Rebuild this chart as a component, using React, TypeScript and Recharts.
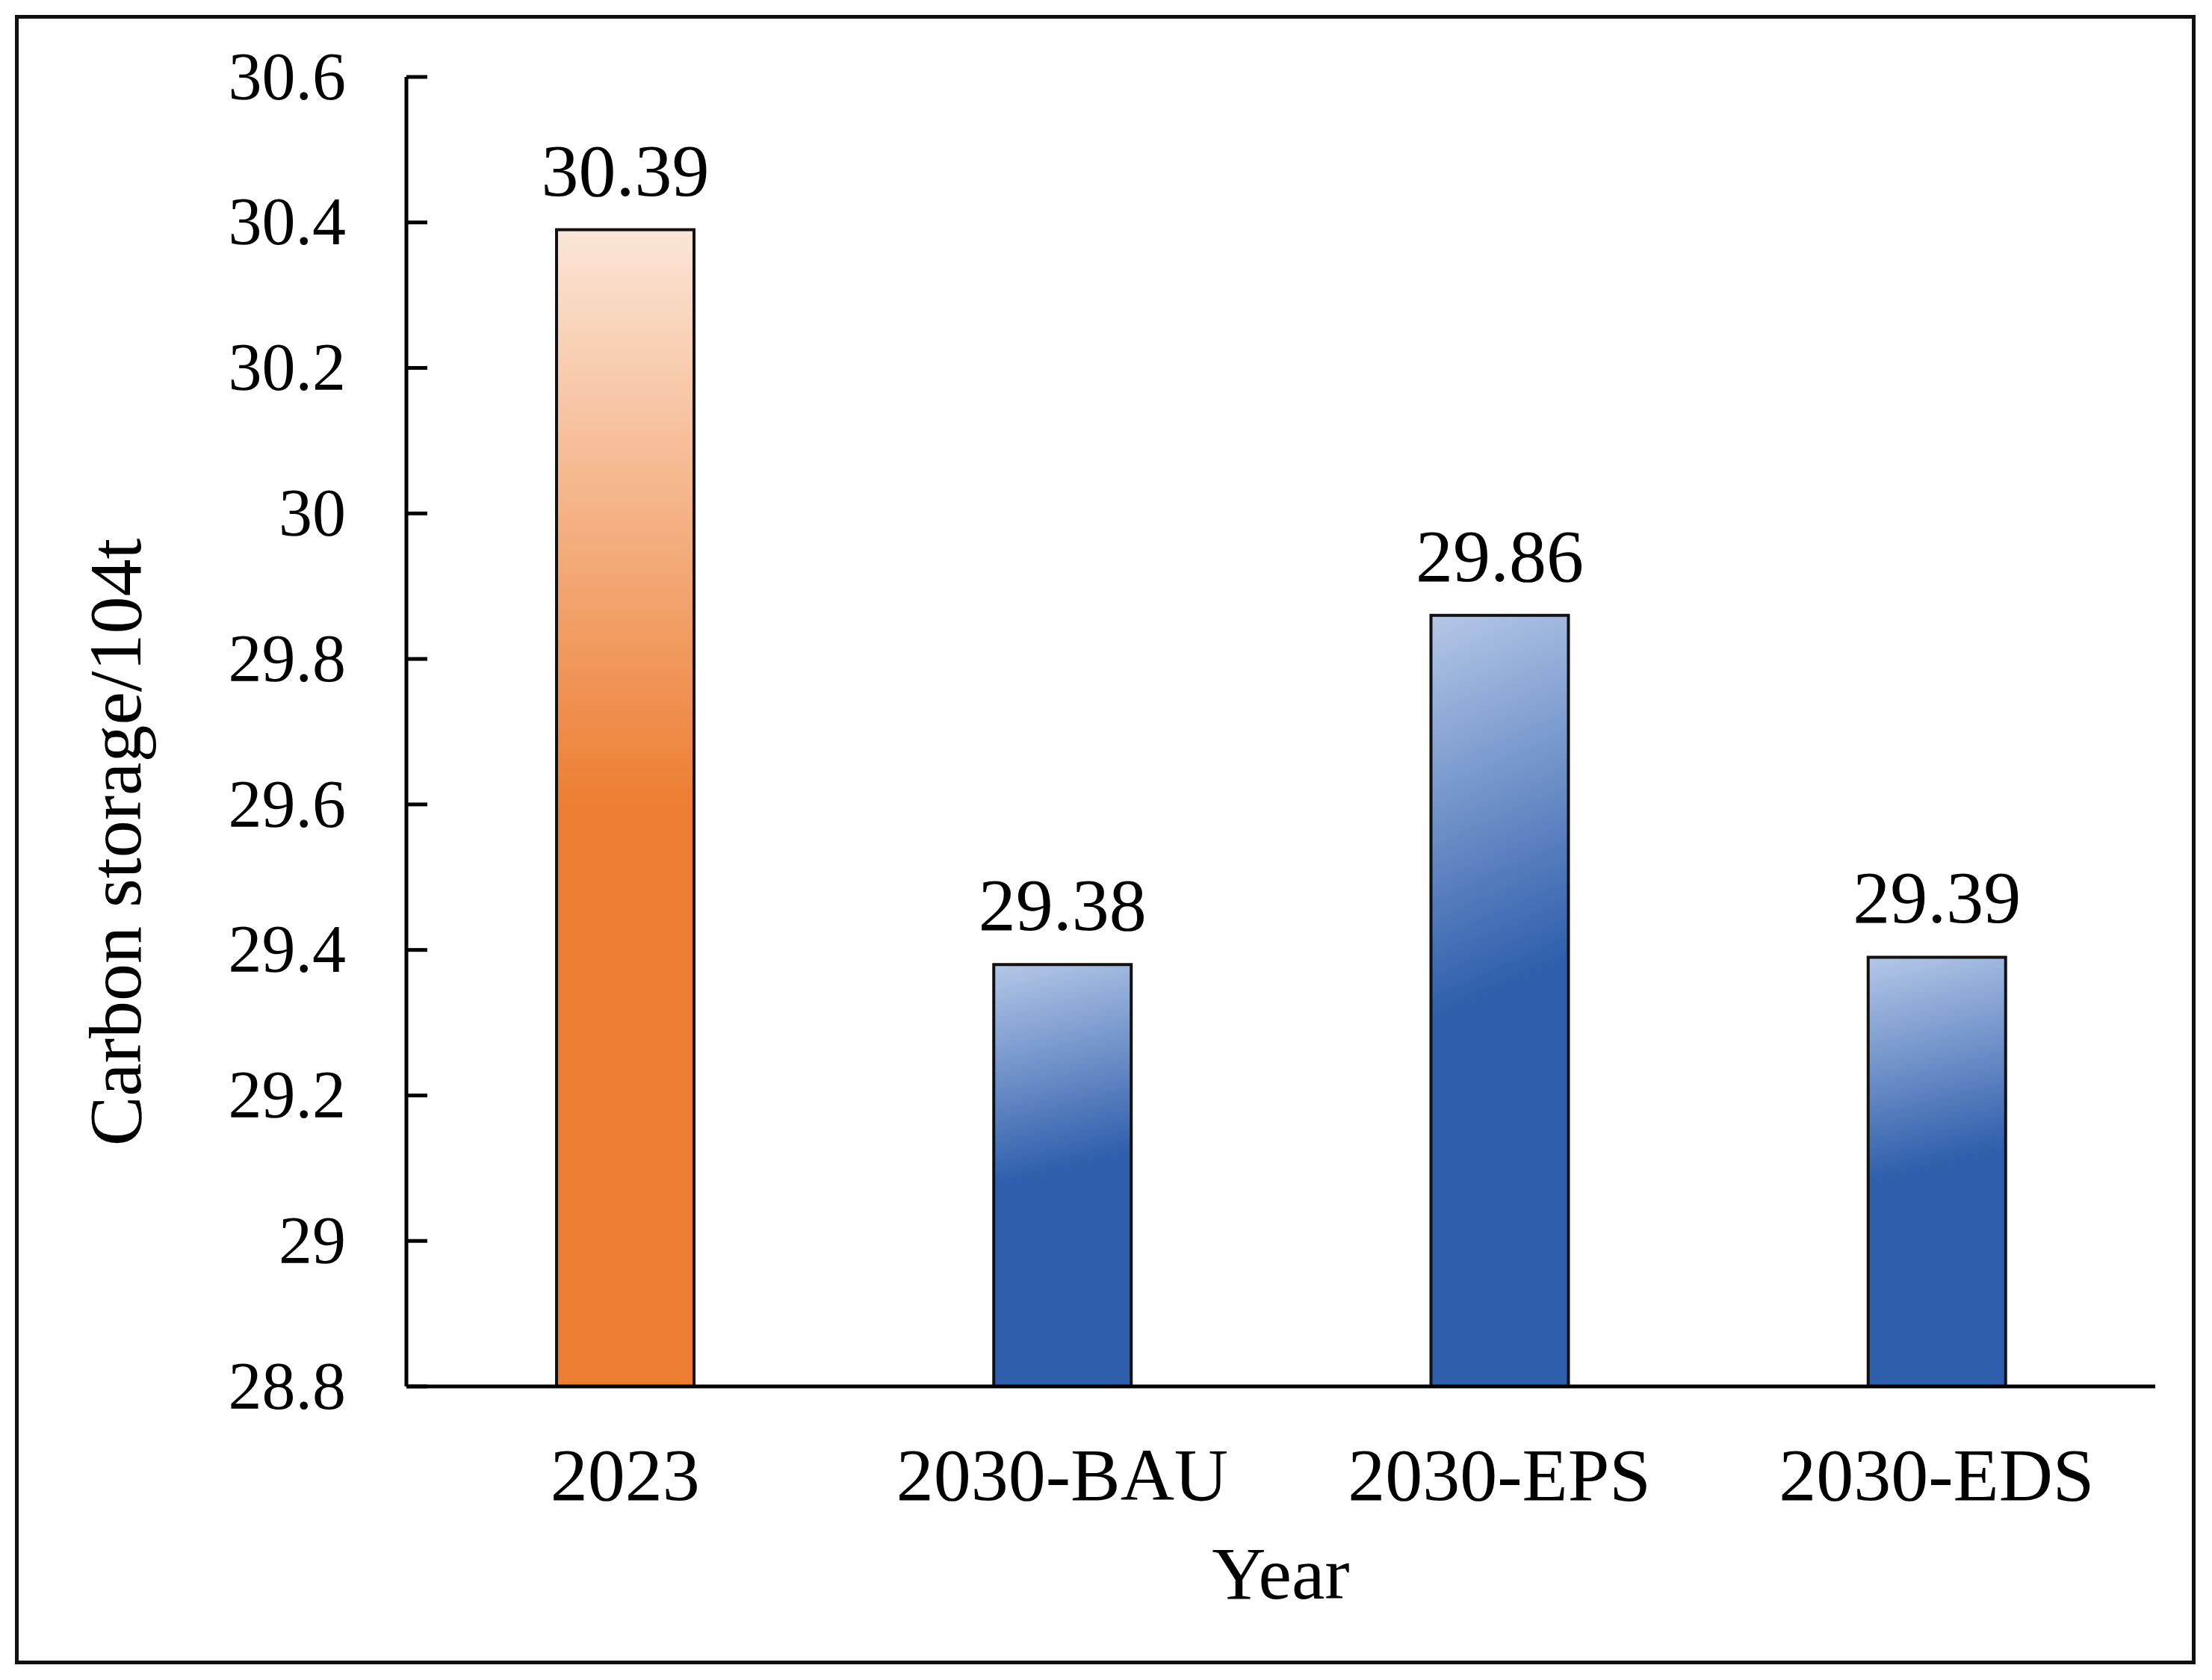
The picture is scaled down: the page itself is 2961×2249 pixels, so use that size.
import React from 'react';
import { BarChart, Bar, XAxis, YAxis, Cell, LabelList } from 'recharts';

const categories = ['2023', '2030-BAU', '2030-EPS', '2030-EDS'];
const carbonStorage = [30.39, 29.38, 29.86, 29.39];
const barColorKeys = ['orange', 'blue', 'blue', 'blue'];
const yTicks = [28.8, 29, 29.2, 29.4, 29.6, 29.8, 30, 30.2, 30.4, 30.6];
const yTickLabels = ['28.8', '29', '29.2', '29.4', '29.6', '29.8', '30', '30.2', '30.4', '30.6'];
const xAxisTitle = 'Year';
const yAxisTitle = 'Carbon storage/104t';

const data = categories.map((c, i) => ({ category: c, value: carbonStorage[i] }));

const FONT = '"Liberation Serif", "Times New Roman", serif';
const W = 2961;
const H = 2249;
const Y_TICK_MARGIN = 81;

const YTick = (props: any) => {
  const { x, y, payload } = props;
  const idx = yTicks.findIndex((v) => Math.abs(v - payload.value) < 1e-6);
  const label = idx >= 0 ? yTickLabels[idx] : String(payload.value);
  const axisX = x + Y_TICK_MARGIN;
  return (
    <g>
      <line x1={axisX} x2={axisX + 28} y1={y} y2={y} stroke="#000" strokeWidth={5} />
      <text x={x} y={y} dy="0.33em" textAnchor="end" fontSize={90} fontFamily={FONT} fill="#000">
        {label}
      </text>
    </g>
  );
};

const YTitle = (props: any) => {
  const vb = props.viewBox || { x: 0, y: 0, width: 0, height: 0 };
  const cx = vb.x + 188;
  const cy = vb.y + vb.height / 2 + 148;
  return (
    <text
      x={cx}
      y={cy}
      textAnchor="middle"
      transform={`rotate(-90, ${cx}, ${cy})`}
      fontSize={100}
      fontFamily={FONT}
      fill="#000"
    >
      {yAxisTitle}
    </text>
  );
};

export default function App() {
  return (
    <div style={{ position: 'absolute', left: 0, top: 0, width: W, height: H, background: '#fff' }}>
      <div
        style={{
          position: 'absolute',
          left: 20,
          top: 20,
          width: 2919,
          height: 2208,
          border: '5px solid #111',
          boxSizing: 'border-box',
        }}
      />
      <div style={{ position: 'absolute', left: 0, top: 0 }}>
        <BarChart
          width={W}
          height={H}
          data={data}
          margin={{ top: 103, right: 76, bottom: 0, left: 0 }}
        >
          <defs>
            <linearGradient id="gradOrange" x1="0" y1="0" x2="0" y2="1">
              <stop offset="0%" stopColor="#FBE5D6" />
              <stop offset="50%" stopColor="#ED7D31" />
              <stop offset="100%" stopColor="#ED7D31" />
            </linearGradient>
            <linearGradient id="gradBlue" x1="0" y1="0" x2="0.08" y2="1">
              <stop offset="0%" stopColor="#B4C7E7" />
              <stop offset="52%" stopColor="#2F5FAC" />
              <stop offset="100%" stopColor="#2F5FAC" />
            </linearGradient>
          </defs>
          <XAxis
            dataKey="category"
            height={393}
            axisLine={{ stroke: '#000', strokeWidth: 5 }}
            tickLine={false}
            tickSize={0}
            tickMargin={81}
            tick={{ fontSize: 100, fontFamily: FONT, fill: '#000' }}
            interval={0}
            label={{
              value: xAxisTitle,
              position: 'insideBottom',
              offset: 109,
              style: { fontSize: 100, fontFamily: FONT, fill: '#000' },
            }}
          />
          <YAxis
            width={544}
            domain={[28.8, 30.6]}
            ticks={yTicks}
            allowDataOverflow
            axisLine={{ stroke: '#000', strokeWidth: 5 }}
            tickLine={false}
            tickSize={0}
            tickMargin={Y_TICK_MARGIN}
            tick={<YTick />}
            interval={0}
            label={<YTitle />}
          />
          <Bar dataKey="value" barSize={184} stroke="#111" strokeWidth={4} isAnimationActive={false}>
            {data.map((d, i) => (
              <Cell key={d.category} fill={barColorKeys[i] === 'orange' ? 'url(#gradOrange)' : 'url(#gradBlue)'} />
            ))}
            <LabelList
              dataKey="value"
              position="top"
              offset={46}
              fill="#000"
              style={{ fontSize: 100, fontFamily: FONT, fill: '#000' }}
            />
          </Bar>
        </BarChart>
      </div>
    </div>
  );
}
